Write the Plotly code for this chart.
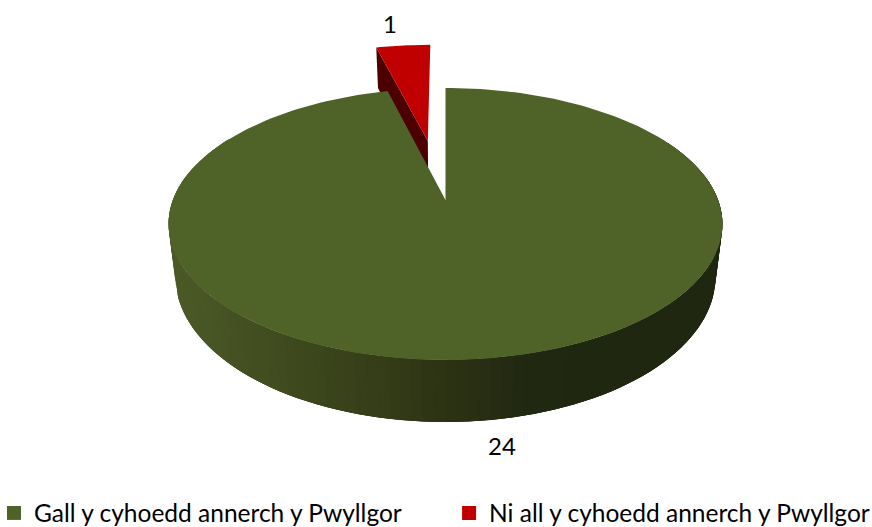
import math
import plotly.graph_objects as go

categories = ["Gall y cyhoedd annerch y Pwyllgor", "Ni all y cyhoedd annerch y Pwyllgor"]
values = [24, 1]
top_colors = ["#4F6228", "#C00000"]
wall_dark = "#4D0000"
explode = [0.0, 0.49]

W, H = 872, 527
CX, CY = 445.5, 200.0     # projected pie centre
D, SY, SX = 5.667, 746.7, 1545.0   # perspective of the tilted disc
THICK, SHRINK = 289.0, 0.975


def proj(u, v):
    k = D - v
    return CX + SX * u / k, CY + SY * v / k


def proj_low(u, v):
    x, y = proj(u, v)
    return CX + (x - CX) * SHRINK, y + THICK / (D - v)


def pt(theta, off=(0.0, 0.0), r=1.0):
    t = math.radians(theta)
    return r * math.sin(t) + off[0], -r * math.cos(t) + off[1]


def side_color(x):
    stops = [(170, (76, 90, 39)), (300, (62, 72, 29)), (445, (44, 51, 20)), (530, (33, 40, 17)), (600, (31, 39, 16)), (730, (31, 39, 16))]
    for (a, ca), (b, cb) in zip(stops, stops[1:]):
        if x <= b:
            f = max(0.0, (x - a) / (b - a))
            c = [round(ca[i] + (cb[i] - ca[i]) * f) for i in range(3)]
            return "rgb(%d,%d,%d)" % tuple(c)
    return "rgb(31,39,16)"


total = sum(values)
spans = []
start = 0.0
for val in values:
    spans.append((start, start + 360.0 * val / total))
    start = spans[-1][1]

fig = go.Figure()


def poly(xs, ys, color):
    fig.add_trace(go.Scatter(x=xs, y=ys, mode="lines", fill="toself", fillcolor=color,
                             line=dict(color=color, width=0), hoverinfo="skip", showlegend=False))


# exploded slice: inner wall, then top face
a0, a1 = spans[1]
mid = math.radians((a0 + a1) / 2)
off = (explode[1] * math.sin(mid) - 0.009, -explode[1] * math.cos(mid))
wall = [off, pt(a0, off)]
wt = [proj(*p) for p in wall]
wb = [proj_low(*p) for p in wall]
ring = wt + wb[::-1]
poly([p[0] for p in ring], [p[1] for p in ring], wall_dark)
top = [proj(*off)] + [proj(*pt(a0 + (a1 - a0) * i / 12, off)) for i in range(13)]
poly([p[0] for p in top], [p[1] for p in top], top_colors[1])

# main slice: outer wall as overlapping shaded strips, then top face
a0, a1 = spans[0]
N = 120
lo, hi = 60.0, 300.0
for i in range(N):
    t0 = lo + (hi - lo) * i / N
    t1 = min(hi, lo + (hi - lo) * (i + 3) / N)
    tc = lo + (hi - lo) * (i + 0.5) / N
    arc = [pt(t0 + (t1 - t0) * j / 3) for j in range(4)]
    q = [proj(*p) for p in arc] + [proj_low(*p) for p in arc[::-1]]
    poly([p[0] for p in q], [p[1] for p in q], side_color(proj(*pt(tc))[0]))
top = [proj(0, 0)] + [proj(*pt(a0 + (a1 - a0) * i / 240)) for i in range(241)]
poly([p[0] for p in top], [p[1] for p in top], top_colors[0])

# legend entries, one legend box each so they can sit side by side
for name, col, lg in zip(categories, top_colors, ["legend", "legend2"]):
    fig.add_trace(go.Scatter(x=[None], y=[None], mode="markers", name=name, legend=lg,
                             marker=dict(symbol="square", size=14, color=col)))

label_font = dict(family="Lato", size=24, color="#000000")
fig.add_annotation(x=390, y=23, text=str(values[1]), showarrow=False, font=label_font)
fig.add_annotation(x=502, y=445, text=str(values[0]), showarrow=False, font=label_font)

legend_font = dict(family="Lato", size=24.5, color="#000000")
fig.update_layout(
    width=W, height=H, margin=dict(l=0, r=0, t=0, b=0, autoexpand=False),
    paper_bgcolor="#FFFFFF", plot_bgcolor="#FFFFFF",
    xaxis=dict(range=[0, W], visible=False, fixedrange=True),
    yaxis=dict(range=[H, 0], visible=False, fixedrange=True),
    legend=dict(x=-0.0069, xanchor="left", y=0.0266, yanchor="middle", font=legend_font,
                bgcolor="rgba(0,0,0,0)"),
    legend2=dict(x=0.515, xanchor="left", y=0.0266, yanchor="middle", font=legend_font,
                 bgcolor="rgba(0,0,0,0)"),
)
fig.write_html("out.html", config={"displayModeBar": False},
               post_script="document.body.style.margin='0';")
